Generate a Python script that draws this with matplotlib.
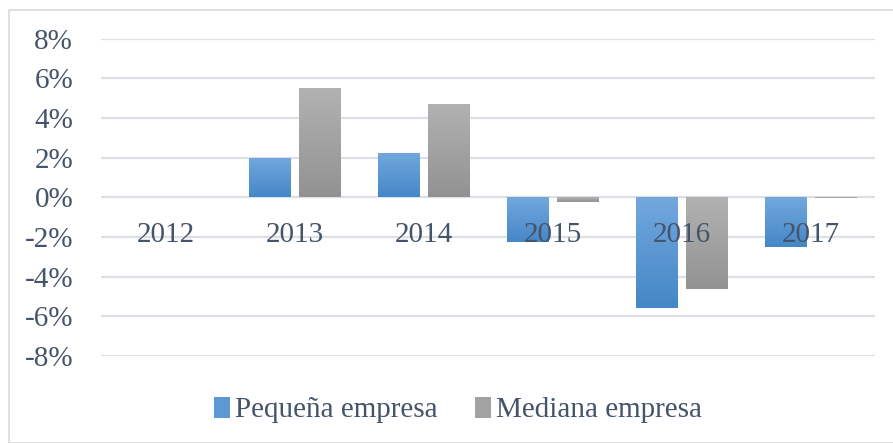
import matplotlib
matplotlib.use("Agg")
import matplotlib.pyplot as plt
import numpy as np
from matplotlib.patches import Rectangle, Patch
from matplotlib.colors import LinearSegmentedColormap

years = ["2012", "2013", "2014", "2015", "2016", "2017"]
pequena = [0.0, 2.0, 2.22, -2.24, -5.57, -2.5]
mediana = [0.0, 5.49, 4.69, -0.23, -4.6, -0.05]
yticks = [-8, -6, -4, -2, 0, 2, 4, 6, 8]
series_names = ["Pequeña empresa", "Mediana empresa"]

TXT = "#44546A"
GRID = "#DCE0E6"
FONT = ["Liberation Serif", "DejaVu Serif"]

fig = plt.figure(figsize=(8.93, 4.43), dpi=100)
ax = fig.add_axes([101/893, 87/443, 774/893, 317.3/443])

blue_cmap = LinearSegmentedColormap.from_list("b", ["#4587C7", "#72A8DE"])
gray_cmap = LinearSegmentedColormap.from_list("g", ["#929292", "#B2B2B2"])

x = np.arange(len(years))
w = 0.318
off = 0.194

ax.set_xlim(-0.5, len(years) - 0.5)
ax.set_ylim(-8, 8)

grad = np.linspace(0, 1, 256).reshape(-1, 1)

def gbar(xc, v, cmap):
    if v == 0:
        return
    y0, y1 = min(0, v), max(0, v)
    r = Rectangle((xc - w/2, y0), w, y1 - y0, facecolor="none", edgecolor="none")
    ax.add_patch(r)
    im = ax.imshow(grad, cmap=cmap, origin="lower", aspect="auto",
                   extent=(xc - w/2, xc + w/2, y0, y1), zorder=3, interpolation="bilinear")
    im.set_clip_path(r)

for i in range(len(years)):
    gbar(x[i] - off, pequena[i], blue_cmap)
    gbar(x[i] + off, mediana[i], gray_cmap)

ax.set_xlim(-0.5, len(years) - 0.5)
ax.set_ylim(-8, 8)

for yt in yticks:
    ax.axhline(yt, color=GRID, lw=1.6, zorder=1)

for s in ax.spines.values():
    s.set_visible(False)
ax.set_xticks([])
ax.set_yticks(yticks)
ax.set_yticklabels([f"{t}%" for t in yticks], fontsize=21, color=TXT, family=FONT)
ax.tick_params(axis="y", length=0, pad=20)

for i, yr in enumerate(years):
    ax.annotate(yr, xy=(x[i], 0), xytext=(0, -32.5), textcoords="offset points",
                ha="center", va="baseline", fontsize=21, color=TXT, family=FONT, zorder=4)

handles = [Patch(facecolor="#5C98D4"), Patch(facecolor="#A2A2A2")]
leg = fig.legend(handles, series_names, loc="center", bbox_to_anchor=(0.513, (443-410)/443),
                 ncol=2, frameon=False, prop={"family": FONT, "size": 21},
                 handlelength=0.55, handleheight=0.75, handletextpad=0.15, columnspacing=1.3)
for t in leg.get_texts():
    t.set_color(TXT)

fig.patches.append(Rectangle((9/893, 0), 1.2, (443-10)/443, transform=fig.transFigure,
                             facecolor="none", edgecolor="#D9D9D9", lw=1.2))

fig.savefig("out.png", dpi=100)
